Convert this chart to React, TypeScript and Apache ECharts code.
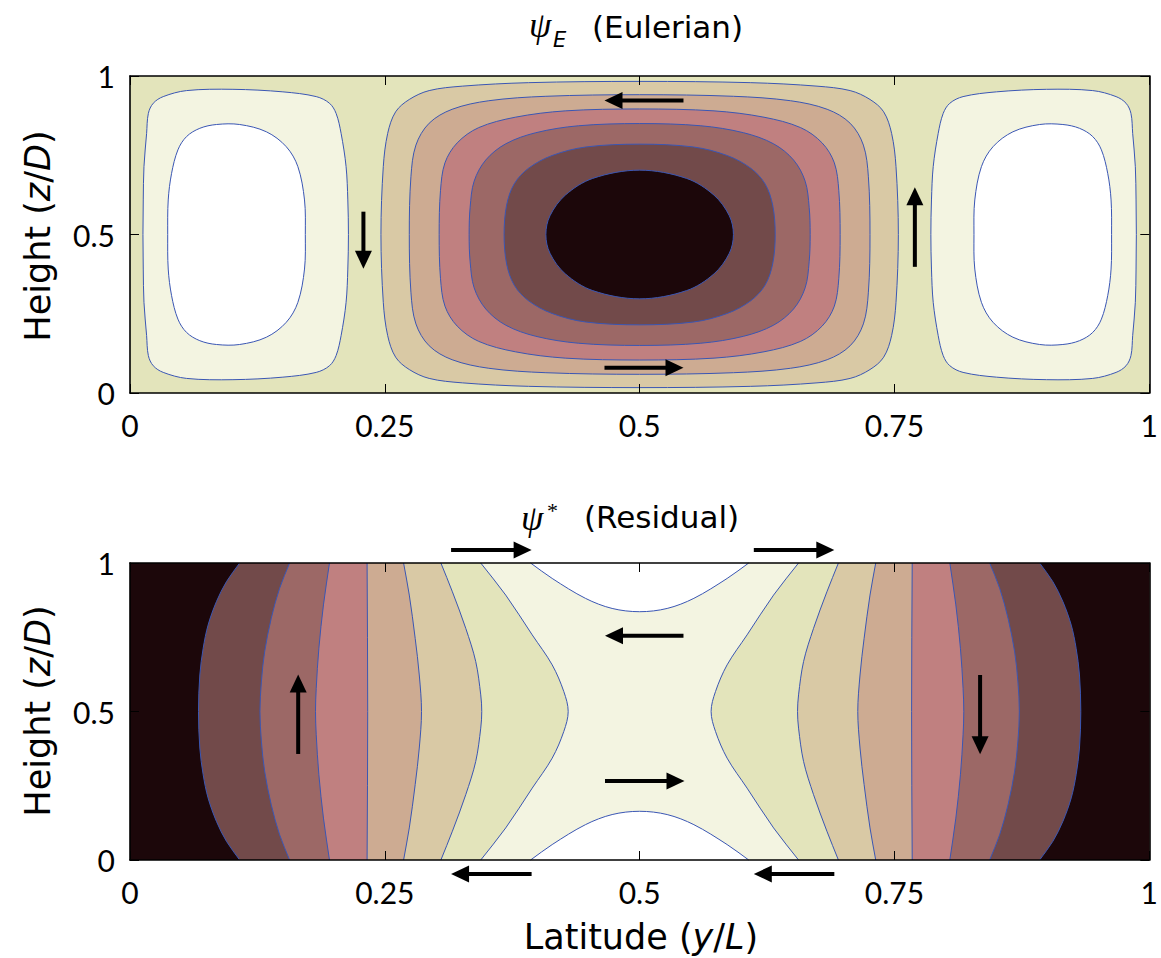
import React, { useEffect, useRef } from "react";
import * as echarts from "echarts";

// ---------- axis ticks ----------
const xTickValues = [0, 0.25, 0.5, 0.75, 1];
const yTickValues = [0, 0.5, 1];

// ---------- colours of the filled levels ----------
const C_WHITE = "#ffffff";
const C_CREAM = "#f3f4e1";
const C_OLIVE = "#e3e4bb";
const C_TAN = "#d9c9a5";
const C_LBROWN = "#cdab92";
const C_PINK = "#c08080";
const C_MAUVE = "#9c6866";
const C_DBROWN = "#724a4a";
const C_BLACK = "#1c070a";
const C_LINE = "#3a56b4";

// ---------- Eulerian streamfunction: centre cell contours ----------
// upper-left quadrant, [y/L, z/D], from top-centre (y=0.5) to left mid-height (z=0.5)
const eulerC1 = [[0.5, 0.983], [0.391, 0.979], [0.326, 0.968], [0.2935, 0.954], [0.274, 0.926], [0.2606, 0.887], [0.2528, 0.819], [0.2485, 0.714], [0.2462, 0.5]];
const eulerC2 = [[0.5, 0.941], [0.408, 0.936], [0.352, 0.922], [0.316, 0.895], [0.2935, 0.851], [0.2805, 0.782], [0.2756, 0.682], [0.274, 0.5]];
const eulerC3 = [[0.5, 0.896], [0.427, 0.89], [0.378, 0.87], [0.342, 0.837], [0.321, 0.789], [0.309, 0.726], [0.3046, 0.638], [0.3033, 0.5]];
const eulerC4 = [[0.5, 0.85], [0.44, 0.843], [0.398, 0.821], [0.3686, 0.786], [0.349, 0.735], [0.3376, 0.668], [0.3337, 0.586], [0.3327, 0.5]];
const eulerC5 = [[0.5, 0.785], [0.447, 0.776], [0.414, 0.749], [0.391, 0.709], [0.377, 0.66], [0.3695, 0.593], [0.367, 0.5]];
const eulerC6 = [[0.5, 0.703], [0.454, 0.677], [0.427, 0.624], [0.412, 0.559], [0.408, 0.5]];
const eulerCentreLevels = [
  { pts: eulerC1, color: C_TAN },
  { pts: eulerC2, color: C_LBROWN },
  { pts: eulerC3, color: C_PINK },
  { pts: eulerC4, color: C_MAUVE },
  { pts: eulerC5, color: C_DBROWN },
  { pts: eulerC6, color: C_BLACK },
];

// ---------- Eulerian: left side cell (right cell is its mirror) ----------
// upper half, from left mid-height, over the top, to right mid-height
const eulerSideOuter = [[0.0127, 0.5], [0.013, 0.609], [0.0137, 0.714], [0.0163, 0.819], [0.018, 0.882], [0.0228, 0.914], [0.0326, 0.935], [0.0555, 0.954], [0.101, 0.958], [0.15, 0.95], [0.1827, 0.935], [0.1957, 0.914], [0.2022, 0.882], [0.2071, 0.819], [0.212, 0.714], [0.2137, 0.609], [0.2143, 0.5]];
const eulerSideInner = [[0.037, 0.5], [0.0375, 0.609], [0.0408, 0.693], [0.047, 0.767], [0.0555, 0.809], [0.0685, 0.835], [0.0848, 0.847], [0.1076, 0.847], [0.1338, 0.824], [0.1533, 0.777], [0.1647, 0.714], [0.1712, 0.609], [0.172, 0.5]];

// ---------- Residual streamfunction: left-half contours ----------
// upper half of each line, [y/L, z/D], from the top (z=1) down to mid-height (z=0.5)
const residL1 = [[0.1076, 1], [0.0946, 0.937], [0.0848, 0.87], [0.0766, 0.791], [0.0718, 0.713], [0.0685, 0.623], [0.0672, 0.5]];
const residL2 = [[0.1566, 1], [0.1468, 0.915], [0.1386, 0.814], [0.1321, 0.701], [0.1289, 0.6], [0.1275, 0.5]];
const residL3 = [[0.1957, 1], [0.1898, 0.859], [0.1853, 0.713], [0.1827, 0.578], [0.182, 0.5]];
const residL4 = [[0.2326, 1], [0.233, 0.75], [0.2332, 0.5]];
const residL5 = [[0.2684, 1], [0.274, 0.892], [0.2798, 0.746], [0.2838, 0.623], [0.286, 0.5]];
const residL6 = [[0.305, 1], [0.3163, 0.903], [0.3294, 0.78], [0.3392, 0.668], [0.3441, 0.556], [0.3451, 0.5]];
const residL7 = [[0.3441, 1], [0.3686, 0.892], [0.3946, 0.758], [0.4142, 0.657], [0.4256, 0.567], [0.4299, 0.5]];
// colour of the band on the outer (wall) side of each line; drawn from L7 inwards
const residLevels = [
  { pts: residL7, color: C_OLIVE },
  { pts: residL6, color: C_TAN },
  { pts: residL5, color: C_LBROWN },
  { pts: residL4, color: C_PINK },
  { pts: residL3, color: C_MAUVE },
  { pts: residL2, color: C_DBROWN },
  { pts: residL1, color: C_BLACK },
];
// white cap touching the top boundary: left half, from the wall-side edge to the centre
const residCap = [[0.393, 1], [0.4142, 0.948], [0.4468, 0.881], [0.473, 0.847], [0.5, 0.836]];

// ---------- circulation arrows [y0, z0, y1, z1] (tail -> tip) ----------
const eulerArrows = [
  [0.543, 0.923, 0.4655, 0.923],
  [0.4655, 0.08, 0.543, 0.08],
  [0.229, 0.572, 0.229, 0.392],
  [0.77, 0.398, 0.77, 0.649],
];
const residArrows = [
  [0.165, 0.357, 0.165, 0.625],
  [0.834, 0.623, 0.834, 0.356],
  [0.543, 0.755, 0.466, 0.755],
  [0.466, 0.266, 0.544, 0.266],
  [0.315, 1.044, 0.394, 1.044],
  [0.612, 1.044, 0.691, 1.044],
  [0.394, -0.047, 0.315, -0.047],
  [0.691, -0.047, 0.612, -0.047],
];

// ---------- geometry helpers ----------
type P = number[];
const quadToLoop = (q: P[]): P[] => {
  const bl = q.slice(0, -1).reverse().map(([y, z]) => [y, 1 - z]);
  const br = q.slice(1).map(([y, z]) => [1 - y, 1 - z]);
  const tr = q.slice(1, -1).reverse().map(([y, z]) => [1 - y, z]);
  return [...q, ...bl, ...br, ...tr];
};
const halfToLoop = (h: P[]): P[] => {
  const bottom = h.slice(1, -1).reverse().map(([y, z]) => [y, 1 - z]);
  return [...h, ...bottom];
};
const halfToLine = (h: P[]): P[] => {
  const lower = h.slice(0, -1).reverse().map(([y, z]) => [y, 1 - z]);
  return [...h, ...lower];
};
const mirrorY = (pts: P[]): P[] => pts.map(([y, z]) => [1 - y, z]);
const mirrorZ = (pts: P[]): P[] => pts.map(([y, z]) => [y, 1 - z]);

const unit = (a: P, b: P): P => {
  const dx = b[0] - a[0], dy = b[1] - a[1];
  const l = Math.hypot(dx, dy) || 1;
  return [dx / l, dy / l];
};
// smooth path through pixel points (tangent-limited cubic Bezier)
function smoothPath(p: P[], closed: boolean): string {
  const n = p.length;
  const get = (i: number) => (closed ? p[(i + n) % n] : p[Math.max(0, Math.min(n - 1, i))]);
  const tan = (i: number): P => {
    if (!closed && i <= 0) return unit(p[0], p[1]);
    if (!closed && i >= n - 1) return unit(p[n - 2], p[n - 1]);
    return unit(get(i - 1), get(i + 1));
  };
  let d = `M ${p[0][0]} ${p[0][1]} `;
  const segs = closed ? n : n - 1;
  for (let i = 0; i < segs; i++) {
    const a = get(i), b = get(i + 1);
    const len = Math.hypot(b[0] - a[0], b[1] - a[1]) / 3;
    const t1 = tan(i), t2 = tan(i + 1);
    d += `C ${a[0] + t1[0] * len} ${a[1] + t1[1] * len} ${b[0] - t2[0] * len} ${b[1] - t2[1] * len} ${b[0]} ${b[1]} `;
  }
  if (closed) d += "Z";
  return d;
}

const TICKFONT = "Lato, 'DejaVu Sans', sans-serif";
const FONT = "'DejaVu Sans', Lato, sans-serif";
const SERIF = "'Liberation Serif', 'DejaVu Serif', serif";

function arrowItem(api: any) {
  const a = api.coord([api.value(0), api.value(1)]);
  const b = api.coord([api.value(2), api.value(3)]);
  const u = unit(a, b);
  const headLen = 18, halfW = 8.5;
  const base = [b[0] - u[0] * headLen, b[1] - u[1] * headLen];
  const nx = -u[1], ny = u[0];
  return {
    type: "group",
    children: [
      { type: "line", shape: { x1: a[0], y1: a[1], x2: base[0] + u[0] * 2, y2: base[1] + u[1] * 2 }, style: { stroke: "#000", lineWidth: 4 } },
      { type: "polygon", shape: { points: [b, [base[0] + nx * halfW, base[1] + ny * halfW], [base[0] - nx * halfW, base[1] - ny * halfW]] }, style: { fill: "#000" } },
    ],
  };
}

export default function App() {
  const ref = useRef<HTMLDivElement>(null);
  useEffect(() => {
    document.body.style.margin = "0";
    const chart = echarts.init(ref.current!, undefined, { renderer: "svg" });

    const eulerRender = (_: any, api: any) => {
      const c = (pts: P[]) => pts.map((p) => api.coord(p));
      const tl = api.coord([0, 1]), brc = api.coord([1, 0]);
      const children: any[] = [
        { type: "rect", shape: { x: tl[0], y: tl[1], width: brc[0] - tl[0], height: brc[1] - tl[1] }, style: { fill: C_OLIVE } },
      ];
      eulerCentreLevels.forEach((lv) => {
        children.push({ type: "path", shape: { pathData: smoothPath(c(quadToLoop(lv.pts)), true) }, style: { fill: lv.color, stroke: C_LINE, lineWidth: 1 } });
      });
      [false, true].forEach((mir) => {
        const o = halfToLoop(eulerSideOuter), i = halfToLoop(eulerSideInner);
        children.push({ type: "path", shape: { pathData: smoothPath(c(mir ? mirrorY(o) : o), true) }, style: { fill: C_CREAM, stroke: C_LINE, lineWidth: 1 } });
        children.push({ type: "path", shape: { pathData: smoothPath(c(mir ? mirrorY(i) : i), true) }, style: { fill: C_WHITE, stroke: C_LINE, lineWidth: 1 } });
      });
      return { type: "group", children };
    };

    const residRender = (_: any, api: any) => {
      const c = (pts: P[]) => pts.map((p) => api.coord(p));
      const tl = api.coord([0, 1]), brc = api.coord([1, 0]);
      const children: any[] = [
        { type: "rect", shape: { x: tl[0], y: tl[1], width: brc[0] - tl[0], height: brc[1] - tl[1] }, style: { fill: C_CREAM } },
      ];
      const capTop = [...residCap, ...mirrorY(residCap.slice(0, -1).reverse())];
      [capTop, mirrorZ(capTop)].forEach((cap) => {
        const px = c(cap);
        children.push({ type: "path", shape: { pathData: smoothPath(px, false) + "Z" }, style: { fill: C_WHITE } });
        children.push({ type: "path", shape: { pathData: smoothPath(px, false) }, style: { fill: "none", stroke: C_LINE, lineWidth: 1 } });
      });
      residLevels.forEach((lv) => {
        const line = halfToLine(lv.pts);
        [false, true].forEach((mir) => {
          const pts = mir ? mirrorY(line) : line;
          const px = c(pts);
          const e0 = api.coord([mir ? 1 : 0, 0]), e1 = api.coord([mir ? 1 : 0, 1]);
          const d = smoothPath(px, false) + `L ${e0[0]} ${e0[1]} L ${e1[0]} ${e1[1]} Z`;
          children.push({ type: "path", shape: { pathData: d }, style: { fill: lv.color } });
          children.push({ type: "path", shape: { pathData: smoothPath(px, false) }, style: { fill: "none", stroke: C_LINE, lineWidth: 1 } });
        });
      });
      return { type: "group", children };
    };

    const xAxisBase = (gridIndex: number, position: string, labels: boolean) => ({
      type: "value", gridIndex, position, min: 0, max: 1, interval: 0.25, z: 10,
      axisLine: { show: true, onZero: false, lineStyle: { color: "#000", width: 1.6 } },
      axisTick: { show: true, inside: true, length: 9, customValues: xTickValues, lineStyle: { color: "#000", width: 1 } },
      axisLabel: { show: labels, fontSize: 30, fontFamily: TICKFONT, color: "#000", margin: 17, customValues: xTickValues },
      splitLine: { show: false },
    });
    const yAxisBase = (gridIndex: number, position: string, labels: boolean) => ({
      type: "value", gridIndex, position, min: 0, max: 1, interval: 0.5, z: 10,
      axisLine: { show: true, onZero: false, lineStyle: { color: "#000", width: 1.6 } },
      axisTick: { show: true, inside: true, length: 9, customValues: yTickValues, lineStyle: { color: "#000", width: 1 } },
      axisLabel: { show: labels, fontSize: 30, fontFamily: TICKFONT, color: "#000", margin: 15, customValues: yTickValues },
      splitLine: { show: false },
    });

    const txt = (x: number, y: number, text: string, size: number, extra: any = {}, rotation = 0) => ({
      type: "text", x, y, rotation, z: 100,
      style: {
        text, fontSize: size, fontFamily: extra.family || FONT, fill: "#000",
        textAlign: extra.align || "left", textVerticalAlign: "middle",
        align: extra.align || "left", verticalAlign: "middle",
        fontStyle: extra.italic ? "italic" : "normal",
        rich: { i: { fontStyle: "italic", fontSize: size, fontFamily: FONT } },
      },
    });

    chart.setOption({
      animation: false,
      backgroundColor: "#fff",
      grid: [
        { left: 130, top: 76, width: 1022, height: 317, containLabel: false },
        { left: 130, top: 563, width: 1022, height: 297, containLabel: false },
      ],
      xAxis: [xAxisBase(0, "bottom", true), xAxisBase(0, "top", false), xAxisBase(1, "bottom", true), xAxisBase(1, "top", false)],
      yAxis: [yAxisBase(0, "left", true), yAxisBase(0, "right", false), yAxisBase(1, "left", true), yAxisBase(1, "right", false)],
      graphic: [
        txt(529, 25, "ψ", 36, { italic: true, family: SERIF }),
        txt(553, 40, "E", 21, { italic: true }),
        txt(592, 27, "(Eulerian)", 31),
        txt(521, 518, "ψ", 36, { italic: true, family: SERIF }),
        txt(547, 510, "*", 22, { family: SERIF }),
        txt(584, 517, "(Residual)", 31),
        txt(38, 236, "Height ({i|z}/{i|D})", 35, { align: "center" }, Math.PI / 2),
        txt(38, 711, "Height ({i|z}/{i|D})", 35, { align: "center" }, Math.PI / 2),
        txt(641, 937, "Latitude ({i|y}/{i|L})", 35, { align: "center" }),
      ],
      series: [
        { type: "custom", xAxisIndex: 0, yAxisIndex: 0, silent: true, z: 2, data: [[0, 0]], renderItem: eulerRender },
        { type: "custom", xAxisIndex: 2, yAxisIndex: 2, silent: true, z: 2, data: [[0, 0]], renderItem: residRender },
        { type: "custom", xAxisIndex: 0, yAxisIndex: 0, silent: true, z: 20, clip: false, data: eulerArrows, renderItem: (_: any, api: any) => arrowItem(api) },
        { type: "custom", xAxisIndex: 2, yAxisIndex: 2, silent: true, z: 20, clip: false, data: residArrows, renderItem: (_: any, api: any) => arrowItem(api) },
      ],
    });
    return () => chart.dispose();
  }, []);
  return <div ref={ref} style={{ width: 1161, height: 958 }} />;
}
